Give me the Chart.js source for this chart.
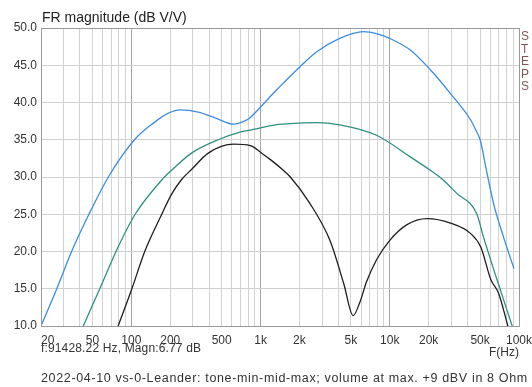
<!DOCTYPE html>
<html>
<head>
<meta charset="utf-8">
<script src="https://cdn.jsdelivr.net/npm/chart.js@4/dist/chart.umd.min.js"></script>
<style>
  html, body { margin: 0; padding: 0; background: #fff; }
  #wrap { position: relative; width: 532px; height: 387px; font-family: "Liberation Sans", Arial, sans-serif; }
  #c { position: absolute; left: 0; top: 0; }
  .t { position: absolute; white-space: nowrap; color: #222; line-height: 1; }
  #title { left: 42px; top: 10px; font-size: 14px; }
  #cursor { left: 41px; top: 342px; font-size: 12px; color: #333; letter-spacing: 0.15px; }
  #fhz { left: 489px; top: 346px; font-size: 12px; color: #333; }
  #footer { left: 41px; top: 372px; font-size: 12.5px; color: #333; letter-spacing: 0.65px; }
  #steps { left: 521px; top: 30px; font-size: 12px; color: #7d5a5a; line-height: 12.5px; white-space: normal; width: 10px; }
</style>
</head>
<body>
<div id="wrap">
  <canvas id="c" width="532" height="387"></canvas>
  <div class="t" id="title">FR magnitude (dB V/V)</div>
  <div class="t" id="cursor">f:91428.22 Hz, Magn:6.77 dB</div>
  <div class="t" id="fhz">F(Hz)</div>
  <div class="t" id="footer">2022-04-10 vs-0-Leander: tone-min-mid-max; volume at max. +9 dBV in 8 Ohm</div>
  <div class="t" id="steps">S<br>T<br>E<br>P<br>S</div>
</div>
<script>
// ---- data ----
const blueF = [20, 26.5, 34.5, 47, 68, 107, 150, 190, 238, 330, 450, 618, 750, 834, 1000, 1300, 1500, 2020, 2720, 4100, 6250, 8000, 10000, 14400, 20600, 29500, 42300, 46000, 50000, 56000, 63400, 75700, 91400];
const blueV = [10.0, 15.0, 20.0, 25.0, 30.3, 35.1, 37.3, 38.5, 39.0, 38.7, 37.9, 37.1, 37.5, 38.0, 39.4, 41.5, 42.6, 44.8, 46.8, 48.6, 49.5, 49.2, 48.6, 47.05, 44.4, 41.2, 37.65, 36.4, 35.0, 30.9, 26.5, 22.0, 17.7];

const tealF = [42.5, 57, 79, 107, 172, 205, 292, 470, 716, 834, 1300, 1500, 2720, 4100, 7900, 14400, 20600, 25900, 33000, 47000, 53000, 67600, 88600];
const tealV = [10.0, 15.0, 20.6, 25.0, 29.6, 30.9, 33.2, 35.0, 36.1, 36.3, 37.0, 37.1, 37.3, 37.0, 35.6, 32.7, 30.9, 29.6, 27.8, 25.1, 22.0, 16.2, 10.0];

const blackF = [79, 101, 127, 172, 205, 246, 292, 394, 618, 834, 1020, 1200, 1500, 1700, 2400, 3440, 4400, 5200, 5900, 6600, 7900, 10000, 13600, 19400, 29500, 42300, 50600, 60600, 69500, 82000];
const blackV = [10.0, 15.0, 20.0, 25.0, 27.7, 29.7, 31.0, 33.2, 34.4, 34.2, 33.2, 32.3, 30.9, 30.0, 26.5, 21.5, 15.7, 11.4, 13.3, 15.9, 18.9, 21.5, 23.6, 24.4, 23.8, 22.4, 20.6, 16.2, 14.4, 10.0];

const xGridTicks = [20,30,40,50,60,70,80,90,100,200,300,400,500,600,700,800,900,1000,2000,3000,4000,5000,6000,7000,8000,9000,10000,20000,30000,40000,50000,60000,70000,80000,90000,100000];
const xLabels = {20:'    20',50:'50',100:'100',200:'200',500:'500',1000:'1k',2000:'2k',5000:'5k',10000:'10k',20000:'20k',50000:'50k',100000:'100k'};

const toPts = (f, v) => f.map((x, i) => ({x: x, y: v[i]}));

const frame = {
  id: 'frame',
  afterDraw(chart) {
    const a = chart.chartArea, ctx = chart.ctx;
    ctx.save();
    ctx.strokeStyle = '#9a9a9a';
    ctx.lineWidth = 1;
    ctx.strokeRect(Math.round(a.left) + 0.5, Math.round(a.top) + 0.5, Math.round(a.right - a.left), Math.round(a.bottom - a.top));
    ctx.restore();
  }
};

const ds = (label, data, color) => ({
  label, data, borderColor: color, backgroundColor: color,
  borderWidth: 1.3, pointRadius: 0, fill: false, cubicInterpolationMode: 'monotone'
});

new Chart(document.getElementById('c'), {
  type: 'line',
  data: {
    datasets: [
      ds('max', toPts(blueF, blueV), '#3b8ddf'),
      ds('mid', toPts(tealF, tealV), '#2f8f80'),
      ds('min', toPts(blackF, blackV), '#1e1e1e')
    ]
  },
  options: {
    responsive: false,
    animation: false,
    layout: { padding: { top: 28, right: 13, left: 0, bottom: 0 } },
    plugins: { legend: { display: false }, title: { display: false }, tooltip: { enabled: false } },
    scales: {
      x: {
        type: 'logarithmic', min: 20, max: 100000,
        afterBuildTicks: s => { s.ticks = xGridTicks.map(v => ({ value: v })); },
        afterFit: s => { s.height = 61; s.paddingLeft = 0; s.paddingRight = 0; },
        ticks: {
          autoSkip: false, maxRotation: 0, padding: 7,
          color: '#333', font: { family: '"Liberation Sans", Arial, sans-serif', size: 12 },
          callback: v => xLabels[v] || ''
        },
        grid: {
          drawTicks: false,
          color: c => ([100, 1000, 10000].includes(c.tick && c.tick.value) ? '#a5a5a5' : '#d2d2d2')
        },
        border: { color: '#9a9a9a' }
      },
      y: {
        min: 10, max: 50,
        afterFit: s => { s.width = 41; s.paddingTop = 0; s.paddingBottom = 0; },
        ticks: {
          stepSize: 5, padding: 4,
          color: '#333', font: { family: '"Liberation Sans", Arial, sans-serif', size: 12 },
          callback: v => Number(v).toFixed(1)
        },
        grid: { drawTicks: false, color: '#cfcfcf' },
        border: { color: '#9a9a9a' }
      }
    }
  },
  plugins: [frame]
});
</script>
</body>
</html>
